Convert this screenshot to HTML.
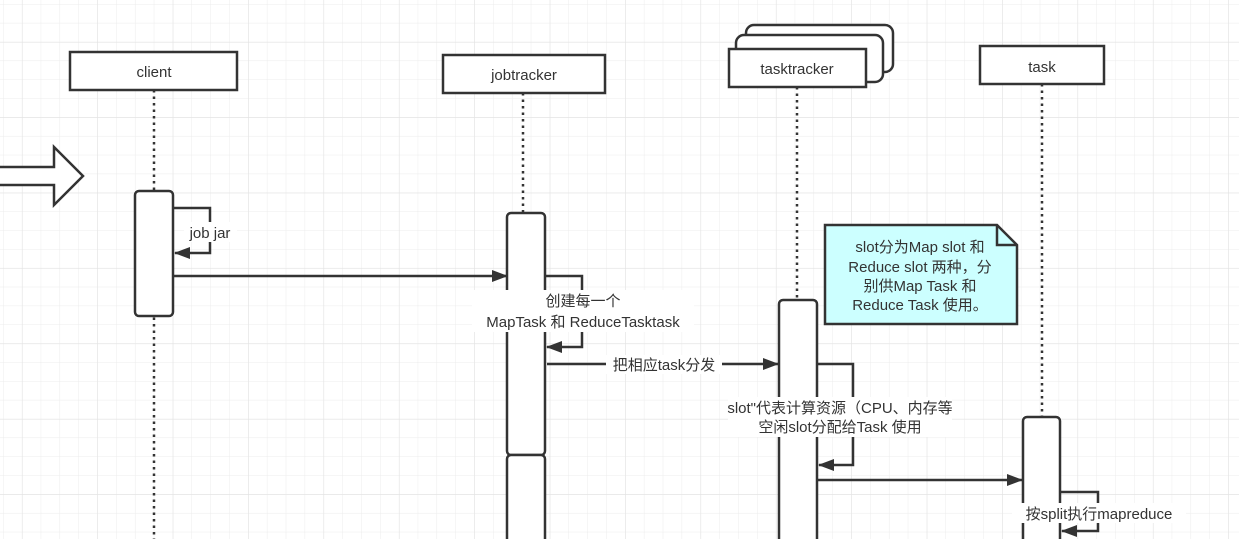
<!DOCTYPE html>
<html><head><meta charset="utf-8"><style>
html,body{margin:0;padding:0;background:#fff;}
svg{display:block;}
text{font-family:"Liberation Sans","Noto Sans CJK SC",sans-serif;font-size:15px;fill:#333;}
</style></head><body>
<svg width="1239" height="539" viewBox="0 0 1239 539" xmlns="http://www.w3.org/2000/svg">
<defs>
<pattern id="g" x="3" y="4" width="18.85" height="18.85" patternUnits="userSpaceOnUse">
<path d="M0 0H18.85M0 0V18.85" stroke="#ececec" stroke-width="1" fill="none"/>
</pattern>
<pattern id="G" x="22" y="42" width="75.4" height="75.4" patternUnits="userSpaceOnUse">
<path d="M0 0H75.4M0 0V75.4" stroke="#e2e2e2" stroke-width="1" fill="none"/>
</pattern>
<marker id="a" markerWidth="16" markerHeight="12" refX="15" refY="6" orient="auto" markerUnits="userSpaceOnUse">
<path d="M0 0L16 6L0 12z" fill="#333"/>
</marker>
</defs>
<rect width="1239" height="539" fill="url(#g)"/>
<rect width="1239" height="539" fill="url(#G)"/>

<g stroke="#333" stroke-width="2.5" fill="#fff">
<path d="M-2 167H54V147L83 176L54 205V185H-2z"/>
<g stroke-dasharray="2.5,4" fill="none">
<line x1="154" y1="90" x2="154" y2="539"/>
<line x1="523" y1="93" x2="523" y2="539"/>
<line x1="797" y1="87" x2="797" y2="539"/>
<line x1="1042" y1="84" x2="1042" y2="539"/>
</g>
<rect x="70" y="52" width="167" height="38"/>
<rect x="443" y="55" width="162" height="38"/>
<rect x="746" y="25" width="147" height="47" rx="8"/>
<rect x="736" y="35" width="147" height="47" rx="8"/>
<rect x="729" y="49" width="137" height="38"/>
<rect x="980" y="46" width="124" height="38"/>
<rect x="135" y="191" width="38" height="125" rx="4"/>
<rect x="507" y="213" width="38" height="242" rx="4"/>
<rect x="507" y="455" width="38" height="100" rx="4"/>
<rect x="779" y="300" width="38" height="260" rx="4"/>
<rect x="1023" y="417" width="37" height="140" rx="4"/>
<path d="M825 225H997L1017 245V324H825z" fill="#ccffff"/>
<path d="M997 225V245H1017" fill="none"/>
<g fill="none">
<path d="M173 208H210V253H175" marker-end="url(#a)"/>
<path d="M173 276H507" marker-end="url(#a)"/>
<path d="M545 276H582V347H547" marker-end="url(#a)"/>
<path d="M547 364H778" marker-end="url(#a)"/>
<path d="M817 364H853V465H819" marker-end="url(#a)"/>
<path d="M817 480H1022" marker-end="url(#a)"/>
<path d="M1060 492H1098V531H1062" marker-end="url(#a)"/>
</g>
</g>

<g fill="#fff">
<rect x="184" y="222" width="53" height="20"/>
<rect x="472" y="290" width="222" height="42"/>
<rect x="606" y="355" width="116" height="19"/>
<rect x="728" y="397" width="224" height="40"/>
<rect x="1012" y="503" width="174" height="20"/>
</g>

<g text-anchor="middle">
<text x="154" y="77">client</text>
<text x="524" y="80">jobtracker</text>
<text x="797" y="74">tasktracker</text>
<text x="1042" y="72">task</text>
<text x="210" y="238">job jar</text>
<text x="583" y="306">创建每一个</text>
<text x="583" y="327">MapTask 和 ReduceTasktask</text>
<text x="664" y="370">把相应task分发</text>
<text x="840" y="413">slot"代表计算资源（CPU、内存等</text>
<text x="840" y="432">空闲slot分配给Task 使用</text>
<text x="1099" y="519">按split执行mapreduce</text>
<text x="920" y="252">slot分为Map slot 和</text>
<text x="920" y="272">Reduce slot 两种，分</text>
<text x="920" y="291">别供Map Task 和</text>
<text x="920" y="310">Reduce Task 使用。</text>
</g>
</svg>
</body></html>
